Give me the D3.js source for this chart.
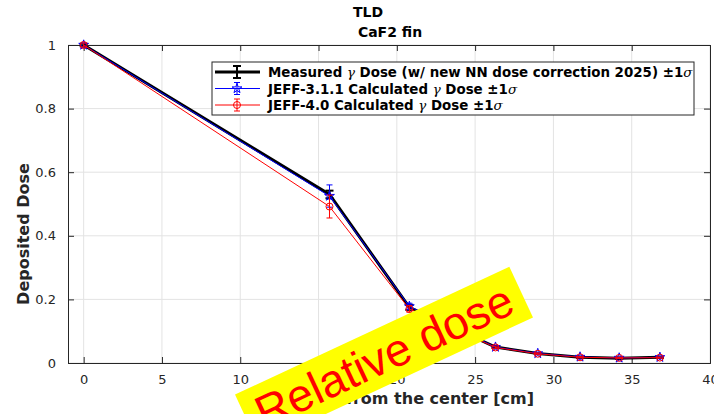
<!DOCTYPE html>
<html>
<head>
<meta charset="utf-8">
<script src="https://cdn.jsdelivr.net/npm/d3@7"></script>
<style>
  body { margin: 0; background: #fff; }
  svg text { font-family: "DejaVu Sans", sans-serif; }
</style>
</head>
<body>
<script>
// data
var distance = [0, 15.7, 20.8, 26.3, 29.0, 31.7, 34.2, 36.8];
var measured = [1, 0.53, 0.175, 0.05, 0.03, 0.018, 0.015, 0.018];
var measuredErr = [0.004, 0.012, 0.008, 0.003, 0.002, 0.002, 0.002, 0.002];
var jeff311 = [1, 0.525, 0.178, 0.05, 0.03, 0.019, 0.016, 0.018];
var jeff311Err = [0.006, 0.035, 0.01, 0.004, 0.003, 0.002, 0.002, 0.002];
var jeff40 = [1, 0.492, 0.17, 0.049, 0.029, 0.018, 0.016, 0.017];
var jeff40Err = [0.006, 0.036, 0.01, 0.004, 0.003, 0.002, 0.002, 0.002];
var xTicks = [0, 5, 10, 15, 20, 25, 30, 35, 40];
var yTicks = [0, 0.2, 0.4, 0.6, 0.8, 1];
// legend text split so the greek letters can be set in italic
var legendParts = [
  ["Measured ", "\u03B3", " Dose (w/ new NN dose correction 2025) \u00B11", "\u03C3"],
  ["JEFF-3.1.1 Calculated ", "\u03B3", " Dose \u00B11", "\u03C3"],
  ["JEFF-4.0 Calculated ", "\u03B3", " Dose \u00B11", "\u03C3"]
];

var chart = {
  W: 714, H: 414,
  margin: { top: 45, right: 4, bottom: 51, left: 68 },
  get width() { return this.W - this.margin.left - this.margin.right; },
  get height() { return this.H - this.margin.top - this.margin.bottom; },

  draw: function() {
    var svg = d3.select("body").append("svg")
      .attr("width", this.W).attr("height", this.H);
    var g = svg.append("g")
      .attr("transform", "translate(" + this.margin.left + "," + this.margin.top + ")");
    var w = this.width, h = this.height;

    var x = d3.scaleLinear().domain([-1, 40]).range([0, w]);
    var y = d3.scaleLinear().domain([0, 1]).range([h, 0]);

    // grid
    g.append("g").selectAll("line").data(xTicks).enter().append("line")
      .attr("x1", d => x(d)).attr("x2", d => x(d)).attr("y1", 0).attr("y2", h)
      .style("stroke", "#e3e3e3").style("stroke-width", 1);
    g.append("g").selectAll("line").data(yTicks).enter().append("line")
      .attr("x1", 0).attr("x2", w).attr("y1", d => y(d)).attr("y2", d => y(d))
      .style("stroke", "#e3e3e3").style("stroke-width", 1);

    // axes, ticks inward
    var axCol = "#262626";
    var xb = g.append("g").attr("transform", "translate(0," + h + ")")
      .call(d3.axisBottom(x).tickValues(xTicks).tickSize(-6).tickPadding(12).tickFormat(d3.format("d")));
    var xt = g.append("g").call(d3.axisTop(x).tickValues(xTicks).tickSize(-6).tickFormat(""));
    var yl = g.append("g").call(d3.axisLeft(y).tickValues(yTicks).tickSize(-6).tickPadding(12).tickFormat(d => d === 0 || d === 1 ? d : d3.format(".1f")(d)));
    var yr = g.append("g").attr("transform", "translate(" + w + ",0)")
      .call(d3.axisRight(y).tickValues(yTicks).tickSize(-6).tickFormat(""));
    [xb, xt, yl, yr].forEach(function(a) {
      a.selectAll("path").style("stroke", axCol).style("stroke-width", 1);
      a.selectAll("line").style("stroke", axCol);
      a.selectAll("text").style("fill", axCol).style("font-size", "13px")
        .style("font-family", "DejaVu Sans, sans-serif");
    });

    var series = [
      { v: measured, e: measuredErr, color: "#000", lw: 3, cap: 8, marker: null },
      { v: jeff311, e: jeff311Err, color: "#0000ff", lw: 1, cap: 6, marker: "star" },
      { v: jeff40, e: jeff40Err, color: "#ff0000", lw: 1, cap: 6, marker: "circle" }
    ];

    var line = d3.line().x((d, i) => x(distance[i])).y(d => y(d));

    series.forEach(function(s) {
      var sg = g.append("g");
      sg.append("path").datum(s.v).attr("d", line)
        .style("fill", "none").style("stroke", s.color).style("stroke-width", s.lw);
      var eb = sg.selectAll(".eb").data(s.v).enter().append("g");
      eb.append("line")
        .attr("x1", (d, i) => x(distance[i])).attr("x2", (d, i) => x(distance[i]))
        .attr("y1", (d, i) => y(d - s.e[i])).attr("y2", (d, i) => y(d + s.e[i]))
        .style("stroke", s.color).style("stroke-width", s.lw > 1 ? 2 : 1);
      [-1, 1].forEach(function(sgn) {
        eb.append("line")
          .attr("x1", (d, i) => x(distance[i]) - s.cap / 2).attr("x2", (d, i) => x(distance[i]) + s.cap / 2)
          .attr("y1", (d, i) => y(d + sgn * s.e[i])).attr("y2", (d, i) => y(d + sgn * s.e[i]))
          .style("stroke", s.color).style("stroke-width", s.lw > 1 ? 2 : 1);
      });
      if (s.marker === "star") {
        sg.selectAll(".mk").data(s.v).enter().append("path")
          .attr("d", d3.symbol().type(d3.symbolStar).size(30))
          .attr("transform", (d, i) => "translate(" + x(distance[i]) + "," + y(d) + ")")
          .style("fill", "none").style("stroke", s.color).style("stroke-width", 1);
      } else if (s.marker === "circle") {
        sg.selectAll(".mk").data(s.v).enter().append("circle")
          .attr("cx", (d, i) => x(distance[i])).attr("cy", d => y(d)).attr("r", 3.5)
          .style("fill", "none").style("stroke", s.color).style("stroke-width", 1);
      }
    });

    // legend
    var lx = 212 - this.margin.left, ly = 62 - this.margin.top;
    var leg = g.append("g").attr("transform", "translate(" + lx + "," + ly + ")");
    leg.append("rect").attr("width", 482).attr("height", 53)
      .style("fill", "#fff").style("stroke", "#262626").style("stroke-width", 1);
    series.forEach(function(s, i) {
      var yy = 10 + i * 16.5;
      var r = leg.append("g").attr("transform", "translate(0," + yy + ")");
      r.append("line").attr("x1", 3).attr("x2", 48).attr("y1", 0).attr("y2", 0)
        .style("stroke", s.color).style("stroke-width", s.lw);
      r.append("line").attr("x1", 25).attr("x2", 25).attr("y1", -6).attr("y2", 6)
        .style("stroke", s.color).style("stroke-width", s.lw > 1 ? 2 : 1);
      [-6, 6].forEach(function(o) {
        r.append("line").attr("x1", 25 - s.cap / 2).attr("x2", 25 + s.cap / 2).attr("y1", o).attr("y2", o)
          .style("stroke", s.color).style("stroke-width", s.lw > 1 ? 2 : 1);
      });
      if (s.marker === "star") {
        r.append("path").attr("d", d3.symbol().type(d3.symbolStar).size(30))
          .attr("transform", "translate(25,0)")
          .style("fill", "none").style("stroke", s.color);
      } else if (s.marker === "circle") {
        r.append("circle").attr("cx", 25).attr("cy", 0).attr("r", 3.5)
          .style("fill", "none").style("stroke", s.color);
      }
      var t = r.append("text").attr("x", 56).attr("y", 5)
        .style("font-size", "13.4px").style("font-weight", "bold").style("fill", "#000");
      legendParts[i].forEach(function(p, k) {
        var ts = t.append("tspan").text(p);
        if (k % 2 === 1) {
          ts.style("font-family", "DejaVu Serif, serif").style("font-style", "italic")
            .style("font-weight", "normal");
        }
      });
    });

    // titles
    svg.append("text").attr("x", 368).attr("y", 17).attr("text-anchor", "middle")
      .style("font-size", "14px").style("font-weight", "bold").style("fill", "#000").text("TLD");
    svg.append("text").attr("x", 390).attr("y", 37).attr("text-anchor", "middle")
      .style("font-size", "14px").style("font-weight", "bold").style("fill", "#000").text("CaF2 fin");

    // axis labels
    svg.append("text").attr("x", 398).attr("y", 404).attr("text-anchor", "middle")
      .style("font-size", "16px").style("font-weight", "bold").style("fill", axCol)
      .text("Distance from the center [cm]");
    svg.append("text").attr("transform", "translate(29," + (this.margin.top + h / 2 + 30) + ") rotate(-90)")
      .attr("text-anchor", "middle")
      .style("font-size", "16px").style("font-weight", "bold").style("fill", axCol)
      .text("Deposited Dose");

    // watermark
    var wm = svg.append("g").attr("transform", "translate(384,356) rotate(-25)");
    var wt = wm.append("text").attr("text-anchor", "middle").attr("y", 16)
      .style("font-family", "Liberation Sans, Arial, sans-serif").style("font-size", "46px")
      .style("fill", "#ff0000").text("Relative dose");
    var bb = wt.node().getBBox();
    wm.insert("rect", "text").attr("x", bb.x - 12).attr("y", -28)
      .attr("width", bb.width + 24).attr("height", 56).style("fill", "#ffff00");
  }
};

chart.draw();
</script>
</body>
</html>
